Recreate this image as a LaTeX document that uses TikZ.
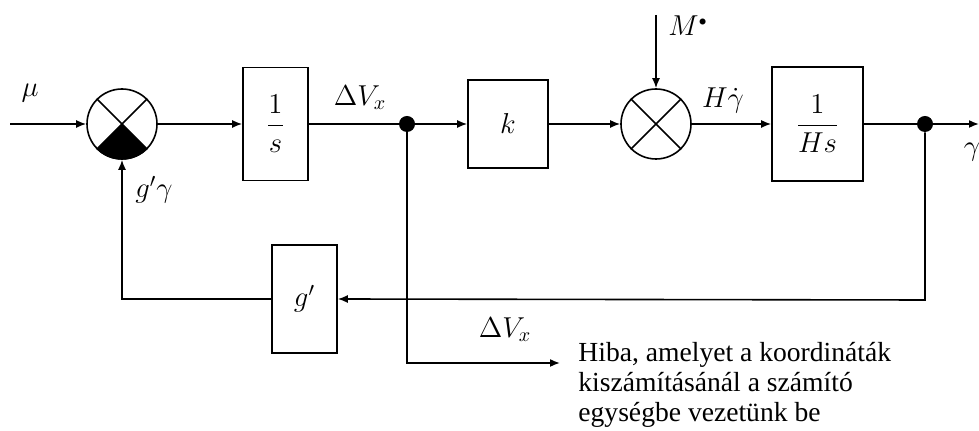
\documentclass[tikz,border=0pt]{standalone}
\usepackage{amsmath, amssymb}
\usepackage{fontspec}
\setmainfont{Liberation Serif}
\usepackage{tikz}
\usetikzlibrary{arrows.meta}

\tikzset{
	tfblock/.style={draw, line width=0.8pt, rectangle, inner sep=0pt, font=\fontsize{14}{16}\selectfont},
	sumblock/.style={draw, line width=0.8pt, circle, minimum size=35pt, inner sep=0pt},
	branchdot/.style={fill, circle, minimum size=8pt, inner sep=0pt},
	sig/.style={line width=0.8pt, -{Latex[length=5pt, width=4pt]}},
	wire/.style={line width=0.8pt},
	lbl/.style={inner sep=0pt, font=\fontsize{14}{16}\selectfont}
}

\begin{document}
\begin{tikzpicture}[x=0.5pt, y=-0.5pt]
		\useasboundingbox (0,0) rectangle (979,431);

		% forward path
		\coordinate (in) at (10,124);
		\node[sumblock] (s1) at (122,124) {};
		\node[tfblock, minimum width=32.5pt, minimum height=56.5pt] (b1) at (275.5,124) {$\dfrac{1}{s}$};
		\node[branchdot] (d1) at (407,124) {};
		\node[tfblock, minimum width=40pt, minimum height=44pt] (bk) at (508,124) {$k$};
		\node[sumblock] (s2) at (656,124) {};
		\node[tfblock, minimum width=45.5pt, minimum height=57pt] (bH) at (817.5,124) {$\dfrac{1}{Hs}$};
		\node[branchdot] (d2) at (925,124) {};
		\coordinate (out) at (979,124);
		\coordinate (mtop) at (656,15);

		% feedback
		\node[tfblock, minimum width=32.5pt, minimum height=54pt] (bg) at (304.5,299) {$g'$};
		\coordinate (fb) at (925,300);
		\coordinate (err) at (560,363);

		% junction marks
		\fill (s1.center) foreach \a in {225,235,...,315} { -- (s1.\a) } -- cycle;
		\draw[wire] (s1.45) -- (s1.225) (s1.135) -- (s1.315);
		\draw[wire] (s2.45) -- (s2.225) (s2.135) -- (s2.315);

		\draw[sig] (in) -- (s1.west);
		\draw[sig] (s1.east) -- (b1.west);
		\draw[wire] (b1.east) -- (d1);
		\draw[sig] (d1) -- (bk.west);
		\draw[sig] (bk.east) -- (s2.west);
		\draw[sig] (mtop) -- (s2.north);
		\draw[sig] (s2.east) -- (bH.west);
		\draw[wire] (bH.east) -- (d2);
		\draw[sig] (d2) -- (out);
		\draw[sig] (d2) -- (fb) -- (bg.east);
		\draw[sig] (bg.west) -| (s1.south);
		\draw[sig] (d1) |- (err);

		% labels
		\node[lbl] (lmu) at (30,93) {$\mu$};
		\node[lbl] (ldv) at (360,98) {$\Delta V_x$};
		\node[lbl] (lm) at (688,26) {$M^{\scriptscriptstyle\bullet}$};
		\node[lbl] (lhg) at (723,100) {$H\dot{\gamma}$};
		\node[lbl] (lgg) at (154,190) {$g'\gamma$};
		\node[lbl] (lgam) at (972,152) {$\gamma$};
		\node[lbl] (ldv2) at (505,330) {$\Delta V_x$};
		\node[anchor=north west, align=left, inner sep=0pt, font=\fontsize{13.8}{15}\selectfont] (txt) at (578,342)
			{Hiba, amelyet a koordináták\\kiszámításánál a számító\\egységbe vezetünk be};
	\end{tikzpicture}
\end{document}
